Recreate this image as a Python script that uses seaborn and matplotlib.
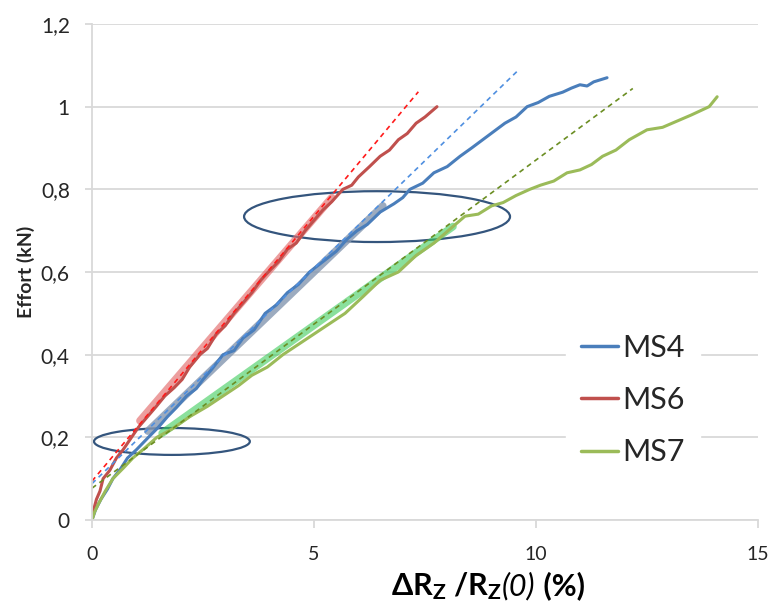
# Effort vs dR/R(0) - essais MS4, MS6, MS7
import matplotlib
matplotlib.use("Agg")
import matplotlib.pyplot as plt
from matplotlib.patches import Ellipse
from matplotlib.offsetbox import TextArea, HPacker, AnchoredOffsetbox
import seaborn as sns

# donnees
ms4_x = [0, 0.08, 0.2, 0.35, 0.47, 0.65, 0.8, 1.0, 1.27, 1.5, 1.7, 1.9, 2.13, 2.35, 2.5, 2.7, 2.95,
         3.2, 3.4, 3.65, 3.9, 4.15, 4.4, 4.65, 4.9, 5.2, 5.5, 5.75, 5.97, 6.2, 6.49, 6.8, 7.0, 7.16,
         7.45, 7.7, 8.0, 8.29, 8.55, 8.8, 9.05, 9.3, 9.55, 9.8, 10.05, 10.3, 10.6, 10.8, 10.99,
         11.15, 11.3, 11.45, 11.6]
ms4_y = [0, 0.025, 0.05, 0.075, 0.1, 0.125, 0.15, 0.17, 0.2, 0.225, 0.25, 0.272, 0.3, 0.318,
         0.34, 0.365, 0.4, 0.41, 0.44, 0.46, 0.5, 0.52, 0.55, 0.57, 0.6, 0.625, 0.65, 0.68, 0.7,
         0.715, 0.745, 0.765, 0.78, 0.8, 0.815, 0.84, 0.855, 0.88, 0.9, 0.92, 0.94, 0.96, 0.975,
         1.0, 1.01, 1.025, 1.035, 1.045, 1.053, 1.05, 1.06, 1.065, 1.07]

ms6_x = [0, 0.05, 0.1, 0.18, 0.25, 0.4, 0.55, 0.7, 0.89, 1.05, 1.25, 1.45, 1.64, 1.85, 2.03,
         2.2, 2.43, 2.6, 2.8, 3.0, 3.2, 3.4, 3.6, 3.8, 3.97, 4.2, 4.4, 4.6, 4.8, 5.0, 5.2, 5.4,
         5.65, 5.85, 6.0, 6.25, 6.49, 6.7, 6.9, 7.1, 7.3, 7.5, 7.77]
ms6_y = [0, 0.03, 0.05, 0.07, 0.1, 0.12, 0.15, 0.17, 0.2, 0.225, 0.25, 0.275, 0.3, 0.32, 0.34,
         0.37, 0.4, 0.415, 0.45, 0.47, 0.5, 0.525, 0.55, 0.58, 0.6, 0.625, 0.655, 0.67, 0.7,
         0.725, 0.75, 0.77, 0.8, 0.81, 0.83, 0.855, 0.88, 0.895, 0.92, 0.935, 0.96, 0.975, 1.0]

ms7_x = [0, 0.06, 0.15, 0.3, 0.47, 0.7, 0.92, 1.2, 1.46, 1.8, 2.2, 2.6, 2.95, 3.3, 3.6, 3.95,
         4.3, 4.65, 5.0, 5.35, 5.7, 6.1, 6.49, 6.9, 7.3, 7.7, 8.13, 8.4, 8.7, 9.0, 9.26, 9.55,
         9.86, 10.1, 10.4, 10.7, 10.99, 11.25, 11.5, 11.8, 12.1, 12.5, 12.85, 13.24, 13.5, 13.7,
         13.9, 14.08]
ms7_y = [0, 0.02, 0.04, 0.07, 0.1, 0.125, 0.15, 0.175, 0.2, 0.22, 0.25, 0.275, 0.3, 0.325,
         0.35, 0.37, 0.4, 0.425, 0.45, 0.475, 0.5, 0.54, 0.58, 0.6, 0.64, 0.67, 0.71, 0.735,
         0.74, 0.76, 0.768, 0.785, 0.8, 0.81, 0.82, 0.84, 0.847, 0.86, 0.88, 0.895, 0.92, 0.944,
         0.95, 0.968, 0.98, 0.99, 1.0, 1.024]

# droites de regression (pointilles)
fit4_x, fit4_y = [0, 9.57], [0.088, 1.085]
fit6_x, fit6_y = [0, 7.35], [0.094, 1.036]
fit7_x, fit7_y = [0, 12.18], [0.077, 1.044]

# zones lineaires surlignees
zone4_x, zone4_y = [1.26, 6.55], [0.215, 0.76]
zone6_x, zone6_y = [1.08, 5.4], [0.24, 0.78]
zone7_x, zone7_y = [1.58, 8.13], [0.21, 0.71]

y_ticks = [0, 0.2, 0.4, 0.6, 0.8, 1.0, 1.2]
y_labels = ["0", "0,2", "0,4", "0,6", "0,8", "1", "1,2"]
x_ticks = [0, 5, 10, 15]
x_labels = ["0", "5", "10", "15"]

sns.set_theme(style="white")
plt.rcParams["font.family"] = ["Lato", "DejaVu Sans"]
plt.rcParams["mathtext.fontset"] = "custom"
plt.rcParams["mathtext.rm"] = "Lato"
plt.rcParams["mathtext.bf"] = "Lato:bold"
plt.rcParams["mathtext.it"] = "Lato:italic"

fig = plt.figure(figsize=(7.72, 6.08), dpi=100)
ax = fig.add_axes([92 / 772, 88 / 608, 666 / 772, 496 / 608])

# zones surlignees
sns.lineplot(x=zone6_x, y=zone6_y, color="#e36b6b", alpha=0.65, lw=5.5, ax=ax)
sns.lineplot(x=zone4_x, y=zone4_y, color="#8496b0", alpha=0.8, lw=5.5, ax=ax)
sns.lineplot(x=zone7_x, y=zone7_y, color="#3ccc5a", alpha=0.6, lw=5.5, ax=ax)

# courbes
sns.lineplot(x=ms4_x, y=ms4_y, color="#4a7ebb", lw=2.2, sort=False, label="MS4", ax=ax)
sns.lineplot(x=ms6_x, y=ms6_y, color="#c0504d", lw=2.2, sort=False, label="MS6", ax=ax)
sns.lineplot(x=ms7_x, y=ms7_y, color="#9bbb59", lw=2.2, sort=False, label="MS7", ax=ax)

# regressions
sns.lineplot(x=fit6_x, y=fit6_y, color="#ff1a1a", lw=1.2, linestyle=(0, (3, 2.5)), ax=ax)
sns.lineplot(x=fit4_x, y=fit4_y, color="#4f8fe0", lw=1.2, linestyle=(0, (3, 2.5)), ax=ax)
sns.lineplot(x=fit7_x, y=fit7_y, color="#6b8e23", lw=1.2, linestyle=(0, (3, 2.5)), ax=ax)

# ellipses
ax.add_patch(Ellipse((6.42, 0.734), 5.99, 0.123, fill=False, ec="#34557d", lw=1.6))
ax.add_patch(Ellipse((1.8, 0.19), 3.51, 0.065, fill=False, ec="#34557d", lw=1.6))

ax.set_xlim(0, 15)
ax.set_ylim(0, 1.2)
ax.set_xticks(x_ticks)
ax.set_xticklabels(x_labels)
ax.set_yticks(y_ticks)
ax.set_yticklabels(y_labels)
ax.grid(axis="y", color="#d9d9d9", lw=1.3)
ax.set_axisbelow(True)
for s in ["top", "right"]:
    ax.spines[s].set_visible(False)
for s in ["left", "bottom"]:
    ax.spines[s].set_color("#d9d9d9")
    ax.spines[s].set_linewidth(1.3)
ax.tick_params(axis="y", left=True, length=5, width=1.3, color="#d9d9d9",
               labelsize=15, pad=11, labelcolor="#262626")
ax.tick_params(axis="x", bottom=True, length=6, width=1.3, color="#d9d9d9",
               labelsize=14, pad=13, labelcolor="#262626")

ax.set_xlabel("")
ax.set_ylabel("Effort (kN)", fontsize=14, fontweight="bold", labelpad=4)

# titre axe x : morceaux gras / italique
bold = dict(fontsize=22, fontweight="bold", color="black")
ital = dict(fontsize=22, fontstyle="italic", color="black")
xlab = HPacker(children=[TextArea(r"ΔR$_{\mathbf{Z}}$ /R$_{\mathbf{Z}}$", textprops=bold),
                         TextArea("(0)", textprops=ital),
                         TextArea(" (%)", textprops=bold)],
               align="baseline", pad=0, sep=0)
ab = AnchoredOffsetbox(loc="lower center", child=xlab, pad=0, borderpad=0, frameon=False,
                       bbox_to_anchor=(488 / 772, 6 / 608), bbox_transform=fig.transFigure)
fig.add_artist(ab)

leg = ax.legend(loc="center", bbox_to_anchor=(633 / 772, 1 - 400 / 608),
                bbox_transform=fig.transFigure, fontsize=22, frameon=True,
                facecolor="white", edgecolor="white", framealpha=1,
                handlelength=1.2, handletextpad=0.15, labelspacing=0.8, borderpad=0.5)
for line in leg.get_lines():
    line.set_linewidth(2.5)

fig.savefig("out.png", dpi=100)
